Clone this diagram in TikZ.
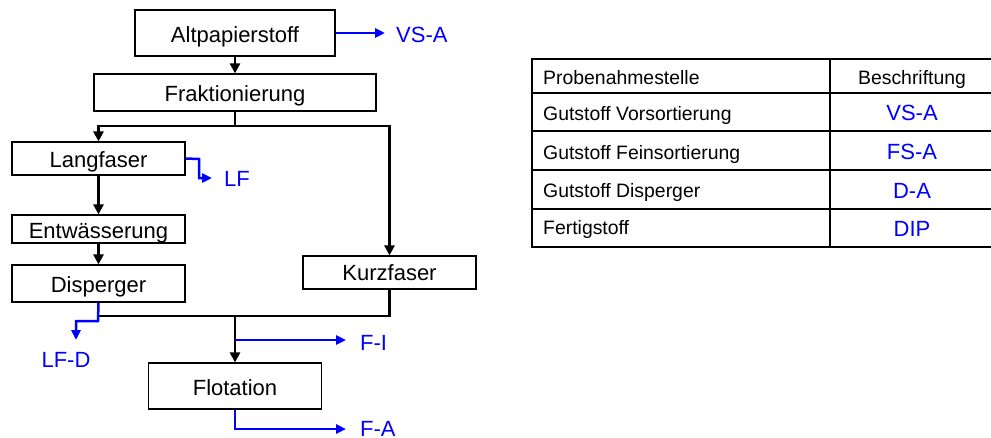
\documentclass[tikz,border=0pt]{standalone}
\usepackage{fontspec}
\setmainfont{Liberation Sans}
\usetikzlibrary{arrows.meta}
\definecolor{lblue}{RGB}{0,0,255}
\begin{document}
\begin{tikzpicture}[x=1pt,y=-1pt,
  box/.style={draw=black,line width=1.2pt,inner sep=0pt,text height=15.8pt,text depth=0pt,font=\fontsize{22}{26}\selectfont},
  blk/.style={draw=black,line width=2.5pt},
  blkarrow/.style={blk,-{Triangle[length=10pt,width=10pt]}},
  bluearrow/.style={draw=lblue,line width=2.5pt,-{Triangle[length=10pt,width=9pt]}},
  lbl/.style={text=lblue,inner sep=0pt,anchor=west,text height=15.8pt,text depth=0pt,font=\fontsize{22}{26}\selectfont},
  cell/.style={inner sep=0pt,anchor=west,text height=13.9pt,text depth=0pt,font=\fontsize{19.4}{23}\selectfont},
  cellb/.style={inner sep=0pt,text=lblue,text height=15.8pt,text depth=0pt,font=\fontsize{22}{26}\selectfont},
  grid/.style={draw=black,line width=2pt}]
\useasboundingbox (0,0) rectangle (991,437);
\begin{scope}
\clip (0,0) rectangle (991,437);
% boxes
\node[box,minimum width=200pt,minimum height=46pt] (alt) at (235,33) {};
\node[box,minimum width=282pt,minimum height=37pt] (frak) at (235,92.5) {};
\node[box,minimum width=173pt,minimum height=33pt] (lang) at (98.5,158.5) {};
\node[box,minimum width=173pt,minimum height=28pt] (entw) at (98.5,229) {};
\node[box,minimum width=173pt,minimum height=37pt] (disp) at (98.5,283.5) {};
\node[box,minimum width=173pt,minimum height=33pt] (kurz) at (389.5,272.5) {};
\node[box,minimum width=173pt,minimum height=46pt] (flot) at (235,386) {};
\node[box,draw=none] (altt) at (235,34.7) {Altpapierstoff};
\node[box,draw=none] (frakt) at (235,93.8) {Fraktionierung};
\node[box,draw=none] (langt) at (98.5,159.2) {Langfaser};
\node[box,draw=none] (entwt) at (98.5,230.2) {Entwässerung};
\node[box,draw=none] (dispt) at (98.5,285) {Disperger};
\node[box,draw=none] (kurzt) at (389.5,273) {Kurzfaser};
\node[box,draw=none] (flott) at (235,388) {Flotation};
% black flow
\coordinate (s1) at (235,126);
\coordinate (m) at (235,316);
\draw[blkarrow] (alt.south) -- (frak.north);
\draw[blk] (frak.south) -- (s1);
\draw[blkarrow] (s1) -| (lang.north);
\draw[blkarrow] (s1) -| (kurz.north);
\draw[blkarrow] (lang.south) -- (entw.north);
\draw[blkarrow] (entw.south) -- (disp.north);
\draw[blk] (disp.south |- m) -- (m);
\draw[blk] (kurz.south) |- (m);
\draw[blkarrow] (m) -- (flot.north);
% blue sampling points
\node[lbl] (vsa) at (396,34.5) {VS-A};
\node[lbl] (lf) at (224,179) {LF};
\node[lbl,anchor=center] (lfd) at (66,359.5) {LF-D};
\node[lbl] (fi) at (360,342.5) {F-I};
\node[lbl] (fa) at (360,429) {F-A};
\coordinate (vsae) at (385,33);
\coordinate (lf1) at (199,159);
\coordinate (lfe) at (212,178);
\coordinate (lfd1) at (98,321);
\coordinate (lfde) at (76,340);
\coordinate (fis) at (235,340);
\coordinate (fie) at (346,340);
\coordinate (fae) at (346,429);
\draw[bluearrow] (alt.east) -- (vsae);
\draw[bluearrow] (lang.east) -- (lf1) |- (lfe);
\draw[bluearrow] (disp.south) -- (lfd1) -| (lfde);
\draw[bluearrow] (fis) -- (fie);
\draw[bluearrow] (flot.south) |- (fae);
% table
\draw[grid] (532,59) rectangle (995,247);
\foreach \yy in {93,131,170,209} \draw[grid] (532,\yy) -- (995,\yy);
\draw[grid] (830,59) -- (830,247);
\node[cell] (h1) at (543,77.5) {Probenahmestelle};
\node[cell,anchor=center] (h2) at (912,77.5) {Beschriftung};
\node[cell] (r1) at (543,113.7) {Gutstoff Vorsortierung};
\node[cell] (r2) at (543,152.5) {Gutstoff Feinsortierung};
\node[cell] (r3) at (543,190.8) {Gutstoff Disperger};
\node[cell] (r4) at (543,228) {Fertigstoff};
\node[cellb] (c1) at (912,112.3) {VS-A};
\node[cellb] (c2) at (912,152) {FS-A};
\node[cellb] (c3) at (912,190.5) {D-A};
\node[cellb] (c4) at (912,228.3) {DIP};
\end{scope}
\end{tikzpicture}
\end{document}
